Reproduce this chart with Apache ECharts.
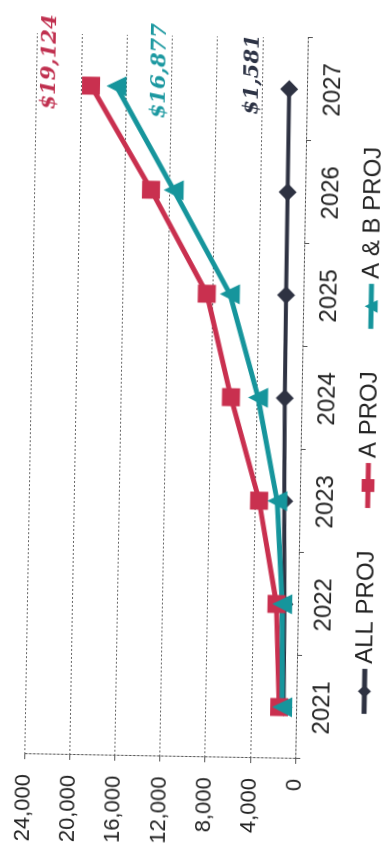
<!DOCTYPE html>
<html>
<head>
<meta charset="utf-8">
<script src="https://cdn.jsdelivr.net/npm/echarts@6/dist/echarts.min.js"></script>
<style>
  html, body { margin: 0; padding: 0; background: #fff; overflow: hidden; width: 383px; height: 857px; }
  /* The chart is laid out landscape and turned to read bottom-to-top. */
  #chart {
    position: absolute;
    width: 857px; height: 383px;
    left: -237px; top: 237px;
    transform-origin: 50% 50%;
    transform: rotate(-89deg);
  }
</style>
</head>
<body>
<div id="chart"></div>
<script>
const years = ['2021', '2022', '2023', '2024', '2025', '2026', '2027'];
const allProj = [1100, 1200, 1380, 1480, 1530, 1560, 1581];
const aProj = [1500, 1900, 3600, 6250, 8550, 13650, 19124];
const abProj = [1240, 1400, 2000, 3850, 6500, 11640, 16877];
const valueTicks = [0, 4000, 8000, 12000, 16000, 20000, 24000];

const NARROW = '"Liberation Sans Narrow", "Liberation Sans", Arial, sans-serif';
const money = v => '$' + v.toLocaleString('en-US');

// Only the final year carries a value label, nudged off its marker.
function withEndLabel(values, color, offset) {
  return values.map((v, i) => i === values.length - 1 ? {
    value: v,
    label: {
      show: true,
      position: 'inside',
      offset: offset,
      formatter: p => money(p.value),
      color: color,
      fontFamily: '"DejaVu Serif", serif',
      fontStyle: 'italic',
      fontWeight: 'bold',
      fontSize: 21
    }
  } : v);
}

const chart = echarts.init(document.getElementById('chart'), null, { renderer: 'canvas' });
chart.setOption({
  animation: false,
  backgroundColor: '#ffffff',
  grid: { left: 100, right: 36, top: 30, bottom: 82, containLabel: false, outerBoundsMode: 'none' },
  legend: {
    top: 352,
    left: 'center',
    itemWidth: 45,
    itemHeight: 16,
    itemGap: 40,
    lineStyle: { width: 5 },
    textStyle: { fontFamily: NARROW, fontSize: 24, color: '#222' },
    data: ['ALL PROJ', 'A PROJ', 'A & B PROJ']
  },
  xAxis: {
    type: 'category',
    data: years,
    boundaryGap: true,
    axisLine: { show: true, lineStyle: { color: '#555', width: 1, type: [2, 2] } },
    axisTick: { show: true, length: 5, lineStyle: { color: '#555' } },
    axisLabel: { fontFamily: NARROW, fontSize: 24, color: '#222', margin: 14 }
  },
  yAxis: {
    type: 'value',
    min: valueTicks[0],
    max: valueTicks[valueTicks.length - 1],
    interval: valueTicks[1] - valueTicks[0],
    axisLine: { show: true, lineStyle: { color: '#555', width: 1, type: [2, 2] } },
    axisTick: { show: true, length: 5, lineStyle: { color: '#555' } },
    splitLine: { show: true, lineStyle: { color: '#666', width: 1, type: [2, 2] } },
    axisLabel: {
      fontFamily: '"Liberation Sans", Arial, sans-serif',
      fontSize: 22,
      color: '#222',
      margin: 20,
      formatter: v => v.toLocaleString('en-US')
    }
  },
  series: [
    {
      name: 'ALL PROJ',
      type: 'line',
      data: withEndLabel(allProj, '#2d3345', [14, -37]),
      symbol: 'diamond',
      symbolSize: 18,
      lineStyle: { width: 4, color: '#2e3242' },
      itemStyle: { color: '#2e3242' }
    },
    {
      name: 'A PROJ',
      type: 'line',
      data: withEndLabel(aProj, '#c0304f', [23, -42]),
      symbol: 'rect',
      symbolSize: 18,
      lineStyle: { width: 5, color: '#c9304f' },
      itemStyle: { color: '#c9304f' }
    },
    {
      name: 'A & B PROJ',
      type: 'line',
      data: withEndLabel(abProj, '#1b98a0', [16, 43]),
      symbol: 'triangle',
      symbolSize: 20,
      lineStyle: { width: 5, color: '#16959c' },
      itemStyle: { color: '#16959c' }
    }
  ]
});
</script>
</body>
</html>
